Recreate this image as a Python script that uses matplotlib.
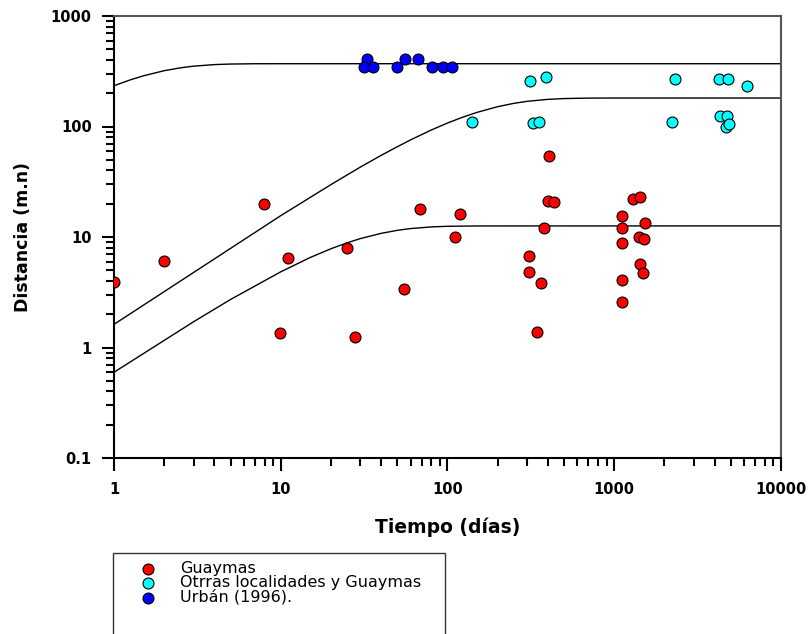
import matplotlib
matplotlib.use("Agg")
import matplotlib.pyplot as plt
from matplotlib.patches import Rectangle
from matplotlib.ticker import NullFormatter

# datos
guaymas_t = [1, 2, 7.9, 11, 9.9, 25, 28, 55, 68, 111, 119, 307, 307, 364, 343, 379,
             404, 402, 435, 1112, 1112, 1112, 1112, 1112, 1290, 1427, 1523, 1415, 1508,
             1427, 1494]
guaymas_d = [3.94, 6.07, 19.9, 6.42, 1.36, 7.9, 1.25, 3.38, 17.8, 9.9, 16.3, 6.69, 4.85,
             3.81, 1.39, 12.1, 54.4, 21.2, 20.9, 15.6, 12.0, 8.83, 4.06, 2.58, 22.1, 23.0,
             13.4, 10.1, 9.6, 5.66, 4.69]

otras_t = [312, 390, 140, 327, 355, 2323, 2220, 4268, 4790, 6230, 4307, 4765, 4677, 4857]
otras_d = [258, 279, 110, 108, 110, 267, 110, 267, 271, 233, 125, 125, 99.6, 105]

urban_t = [32.8, 31.7, 35.9, 49.6, 55.6, 66.9, 80.4, 94.4, 106]
urban_d = [405, 348, 348, 348, 405, 405, 348, 348, 348]

# curvas (puntos leidos sobre las lineas)
c1_t = [1, 1.25, 1.5, 2, 2.5, 3, 4, 5, 7, 10, 10000]
c1_d = [233.9, 264.0, 287.4, 319.9, 339.6, 351.6, 363.2, 367.5, 369.7, 370, 370]
c2_t = [1, 10, 20, 30, 40, 50, 60, 80, 100, 120, 150, 200, 250, 300, 400, 500, 700,
        1000, 10000]
c2_d = [1.62, 15.6, 29.8, 42.9, 54.8, 65.6, 75.6, 93.0, 107.5, 119.6, 134.1, 151.2,
        162.0, 168.9, 176.1, 179.0, 180.7, 181, 181]
c3_t = [1, 3, 5, 10, 15, 20, 25, 30, 40, 50, 60, 80, 100, 150, 10000]
c3_d = [0.597, 1.71, 2.72, 4.84, 6.52, 7.83, 8.86, 9.67, 10.79, 11.49, 11.92, 12.34,
        12.50, 12.59, 12.6]

xticks = [1, 10, 100, 1000, 10000]
xticklabels = ["1", "10", "100", "1000", "10000"]
yticks = [0.1, 1, 10, 100, 1000]
yticklabels = ["0.1", "1", "10", "100", "1000"]

labels = ["Guaymas", "Otrras localidades y Guaymas", "Urbán (1996)."]

fig = plt.figure(figsize=(8.12, 6.34), dpi=100)
ax = fig.add_axes([114/812, 1-458/634, 667/812, 442/634])

for t, d in [(c1_t, c1_d), (c2_t, c2_d), (c3_t, c3_d)]:
    ax.plot(t, d, color="k", lw=1.0, zorder=2)

mk = dict(s=62, edgecolors="k", linewidths=0.8, zorder=3)
h1 = ax.scatter(guaymas_t, guaymas_d, c="#ff0000", **mk)
h2 = ax.scatter(otras_t, otras_d, c="#00ffff", **mk)
h3 = ax.scatter(urban_t, urban_d, c="#0000ff", **mk)

ax.set_xscale("log")
ax.set_yscale("log")
ax.set_xlim(1, 10000)
ax.set_ylim(0.1, 1000)
ax.set_xticks(xticks)
ax.set_xticklabels(xticklabels)
ax.set_yticks(yticks)
ax.set_yticklabels(yticklabels)
ax.xaxis.set_minor_formatter(NullFormatter())
ax.yaxis.set_minor_formatter(NullFormatter())

ax.tick_params(which="both", direction="out", top=False, right=False, width=1.5,
               color="k")
ax.tick_params(which="major", length=9, labelsize=10.5)
ax.tick_params(axis="x", which="major", pad=8)
ax.tick_params(axis="y", which="major", pad=7)
ax.tick_params(which="minor", length=6)
for lab in ax.get_xticklabels() + ax.get_yticklabels():
    lab.set_fontweight("bold")

for s in ["left", "bottom"]:
    ax.spines[s].set_color("k")
    ax.spines[s].set_linewidth(1.5)
for s in ["top", "right"]:
    ax.spines[s].set_color("#555555")
    ax.spines[s].set_linewidth(1.5)

ax.set_xlabel("Tiempo (días)", fontsize=13.5, fontweight="bold")
ax.set_ylabel("Distancia (m.n)", fontsize=12.5, fontweight="bold")
ax.xaxis.set_label_coords(0.5, -0.134)
ax.yaxis.set_label_coords(-0.123, 0.5)

leg = ax.legend([h1, h2, h3], labels, loc="upper left",
                bbox_to_anchor=(140/812, 1-561/634), bbox_transform=fig.transFigure,
                frameon=False, fontsize=11.5, handlelength=1.0, handletextpad=1.5,
                borderpad=0, borderaxespad=0, labelspacing=-0.05, scatterpoints=1)
fig.add_artist(Rectangle((113/812, -0.05), 332/812, 81/634 + 0.05,
                         transform=fig.transFigure, fill=False, edgecolor="#333333",
                         lw=1.0, clip_on=False))

fig.savefig("out.png", dpi=100)
